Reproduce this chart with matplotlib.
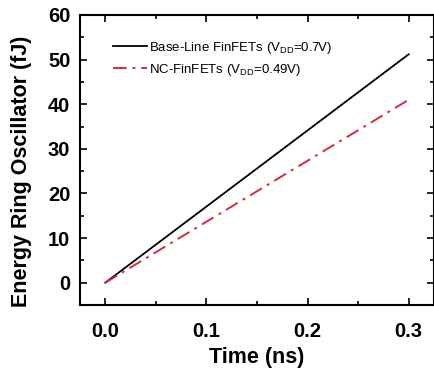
import numpy as np
import matplotlib
matplotlib.use("Agg")
import matplotlib.pyplot as plt
from matplotlib.ticker import MultipleLocator

plt.rcParams['font.family'] = ['Liberation Sans', 'DejaVu Sans']
plt.rcParams['mathtext.fontset'] = 'custom'
plt.rcParams['mathtext.rm'] = 'Liberation Sans'

# data
time_ns = [0.0, 0.3]
energy_base = [0.0, 51.2]
energy_nc = [0.0, 41.0]

fig = plt.figure(figsize=(4.35, 3.71), dpi=100)
ax = fig.add_axes([80 / 435, 1 - 305 / 371, 354 / 435, 290 / 371])

ax.plot(time_ns, energy_base, color='black', lw=1.3,
        label=r'Base-Line FinFETs (V$_{\rm DD}$=0.7V)')
ax.plot(time_ns, energy_nc, color='#d8283c', lw=1.4, ls=(0, (7, 3, 1.5, 3)),
        label=r'NC-FinFETs (V$_{\rm DD}$=0.49V)')

ax.set_xlim(-0.025, 0.325)
ax.set_ylim(-5, 60)
ax.xaxis.set_major_locator(MultipleLocator(0.1))
ax.xaxis.set_minor_locator(MultipleLocator(0.05))
ax.yaxis.set_major_locator(MultipleLocator(10))
ax.yaxis.set_minor_locator(MultipleLocator(5))
ax.tick_params(which='both', direction='in', top=True, right=True, width=1.2)
ax.tick_params(which='major', length=5, labelsize=14.5)
ax.tick_params(axis='x', which='major', pad=12)
ax.tick_params(axis='y', which='major', pad=7)
ax.tick_params(which='minor', length=3)
for lab in ax.get_xticklabels() + ax.get_yticklabels():
    lab.set_fontweight('bold')
for s in ax.spines.values():
    s.set_linewidth(1.5)

ax.set_xlabel('Time (ns)', fontsize=15.5, fontweight='bold')
ax.set_ylabel('Energy Ring Oscillator (fJ)', fontsize=15.5, fontweight='bold')
ax.xaxis.set_label_coords(0.5, -0.145)
ax.yaxis.set_label_coords(-0.135, 0.46)

ax.legend(loc='upper left', frameon=False, fontsize=9.5, handlelength=2.6,
          handletextpad=0.15, labelspacing=0.45, bbox_to_anchor=(0.06, 0.955))

fig.savefig('out.png', dpi=100)
